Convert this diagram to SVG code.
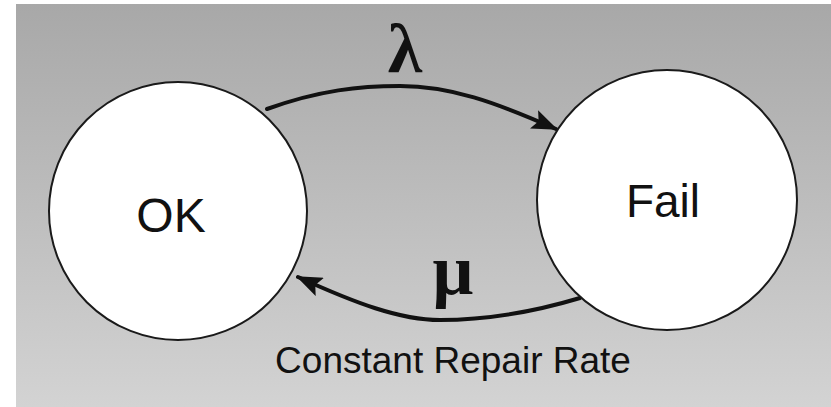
<svg xmlns="http://www.w3.org/2000/svg" width="831" height="407" viewBox="0 0 831 407">
<style>
.state{fill:#ffffff;stroke:#1a1a1a;stroke-width:2}
.lbl{font-family:"Liberation Sans",Arial,sans-serif;fill:#111;text-anchor:middle}
.greek{font-family:"Liberation Serif","Times New Roman",serif;font-weight:bold;fill:#111;text-anchor:middle}
.edge{fill:none;stroke:#111;stroke-width:4;stroke-linecap:round}
</style>
<defs>
<linearGradient id="bg" x1="0" y1="0" x2="0" y2="1">
<stop offset="0" stop-color="#a8a8a8"/>
<stop offset="0.5" stop-color="#bdbdbd"/>
<stop offset="1" stop-color="#d3d3d3"/>
</linearGradient>
<marker id="arrow" markerUnits="userSpaceOnUse" markerWidth="26" markerHeight="20" viewBox="0 0 26 20" refX="24" refY="10" orient="auto">
<path d="M0,0 L26,10 L0,20 L5,10 z" fill="#111"/>
</marker>
</defs>
<rect x="0" y="0" width="831" height="407" fill="#ffffff"/>
<rect x="16" y="4" width="815" height="403" fill="url(#bg)"/>
<g id="connectors">
<path class="edge" d="M267,109 C320,90 360,86 400,86 C450,86 495,102 556,129" marker-end="url(#arrow)"/>
<path class="edge" d="M580,298 C540,310 490,320 440,320 C400,320 355,303 298,277" marker-end="url(#arrow)"/>
</g>
<g id="label-lambda"><text class="greek" x="405" y="72" font-size="70">λ</text></g>
<g id="label-mu"><text class="greek" x="453" y="294" font-size="72">μ</text></g>
<g id="node-ok">
<circle class="state" cx="178" cy="211" r="129"/>
<text class="lbl" x="171" y="232" font-size="48">OK</text>
</g>
<g id="node-fail">
<circle class="state" cx="667" cy="200" r="130"/>
<text class="lbl" x="663" y="217" font-size="46">Fail</text>
</g>
<g id="caption"><text class="lbl" x="453" y="373" font-size="37">Constant Repair Rate</text></g>
</svg>
